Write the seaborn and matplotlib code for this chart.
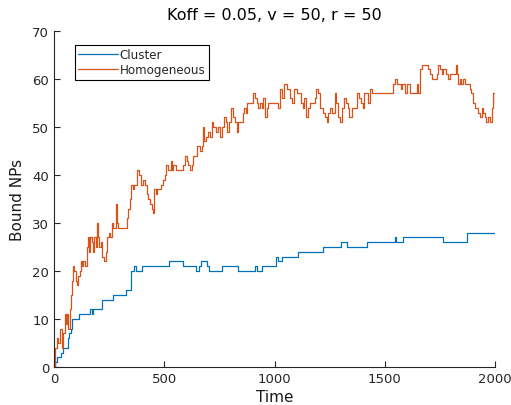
import matplotlib.pyplot as plt
import numpy as np
import pandas as pd
import seaborn as sns

# step change points (time, bound NPs)
cluster_t = [0, 5, 15, 30, 39, 65, 70, 76, 82, 115, 163, 171, 178, 216, 266,
             326, 351, 363, 372, 398, 523, 584, 642, 658, 667, 695, 705, 760,
             836, 910, 922, 942, 1007, 1018, 1035, 1108, 1221, 1303, 1330,
             1418, 1545, 1550, 1581, 1766, 1872, 2000]
cluster_v = [0, 1, 2, 3, 4, 6, 7, 8, 10, 11, 12, 11, 12, 14, 15,
             16, 20, 21, 20, 21, 22, 21, 20, 21, 22, 21, 20, 21,
             20, 21, 20, 21, 23, 22, 23, 24, 25, 26, 25,
             26, 27, 26, 27, 26, 28, 28]

homog_t = [0, 4, 12, 20, 27, 35, 42, 50, 54, 60, 65, 72, 76, 80, 88, 92, 98,
           103, 110, 118, 122, 128, 133, 140, 148, 153, 159, 165, 174, 178,
           183, 189, 193, 198, 206, 212, 216, 224, 228, 234, 242, 251, 254,
           262, 269, 277, 281, 287, 292, 299, 322, 330, 337, 345, 349, 357,
           363, 367, 375, 387, 394, 402, 412, 420, 428, 435, 443, 448, 454,
           463, 469, 478, 484, 493, 503, 508, 518, 529, 533, 541, 553, 579,
           586, 594, 601, 609, 617, 624, 632, 639, 647, 654, 662, 669, 674,
           680, 689, 699, 707, 715, 722, 734, 745, 753, 760, 771, 780, 786,
           795, 801, 810, 821, 828, 836, 846, 855, 861, 870, 877, 889, 901,
           911, 919, 923, 935, 942, 949, 957, 965, 972, 1010, 1017, 1025,
           1032, 1044, 1055, 1070, 1081, 1090, 1100, 1120, 1128, 1135, 1141,
           1150, 1160, 1183, 1190, 1198, 1205, 1214, 1221, 1228, 1236, 1244,
           1251, 1262, 1274, 1281, 1289, 1297, 1304, 1316, 1323, 1332, 1339,
           1350, 1372, 1383, 1392, 1400, 1407, 1418, 1425, 1433, 1441, 1456,
           1509, 1516, 1531, 1539, 1546, 1554, 1572, 1580, 1591, 1599, 1614,
           1645, 1652, 1660, 1667, 1675, 1682, 1697, 1705, 1712, 1735, 1743,
           1750, 1758, 1765, 1780, 1788, 1795, 1818, 1822, 1828, 1833, 1840,
           1848, 1855, 1863, 1878, 1886, 1893, 1901, 1908, 1923, 1931, 1939,
           1946, 1954, 1961, 1969, 1976, 1985, 1992, 2000]
homog_v = [0, 4, 6, 5, 8, 4, 7, 11, 9, 11, 8, 12, 15, 18, 21, 20, 18,
           17, 19, 20, 22, 21, 22, 21, 25, 27, 24, 27, 26, 24,
           27, 25, 30, 27, 25, 26, 23, 23, 22, 24, 27, 28, 27,
           30, 29, 29, 34, 30, 29, 29, 29, 31, 33, 35, 38, 37,
           38, 38, 41, 40, 38, 39, 38, 36, 35, 34, 33, 32, 37,
           36, 37, 37, 38, 39, 40, 42, 41, 43, 41, 42, 41, 41,
           42, 44, 43, 42, 41, 42, 44, 44, 46, 46, 45, 46, 50,
           47, 48, 49, 48, 51, 50, 49, 50, 48, 50, 52, 51, 49,
           51, 54, 52, 51, 49, 51, 51, 53, 54, 53, 55, 55, 57,
           56, 55, 54, 55, 54, 56, 52, 54, 55, 55, 54, 58,
           56, 59, 58, 56, 55, 58, 57, 55, 54, 56, 52,
           54, 55, 56, 58, 57, 54, 54, 53, 52, 51, 53,
           54, 53, 57, 55, 52, 51, 54, 56, 55, 54, 52,
           54, 57, 56, 55, 54, 57, 57, 55, 58, 57, 57,
           57, 57, 57, 59, 60, 59, 58, 59, 57, 59, 57,
           59, 57, 62, 63, 63, 63, 62, 61, 60, 61, 63,
           62, 61, 62, 61, 60, 61, 61, 63, 61, 59, 60,
           59, 60, 59, 59, 58, 57, 55, 54, 53, 52, 54,
           53, 52, 51, 52, 51, 54, 57, 55]

series_names = ['Cluster', 'Homogeneous']
colors = ['#0072BD', '#D95319']

df = pd.concat([
    pd.DataFrame({'Time': cluster_t, 'Bound NPs': cluster_v, 'series': series_names[0]}),
    pd.DataFrame({'Time': homog_t, 'Bound NPs': homog_v, 'series': series_names[1]}),
], ignore_index=True)

sns.set_style('ticks')
plt.rcParams['font.family'] = ['DejaVu Sans']

fig = plt.figure(figsize=(5.11, 4.06), dpi=100)
ax = fig.add_axes([0.1057, 0.0936, 0.863, 0.8274])

sns.lineplot(data=df, x='Time', y='Bound NPs', hue='series',
             palette=dict(zip(series_names, colors)), estimator=None,
             drawstyle='steps-post', linewidth=0.9, ax=ax, legend=False)

ax.set_xlim(0, 2000)
ax.set_ylim(0, 70)
ax.set_xticks([0, 500, 1000, 1500, 2000])
ax.set_yticks(np.arange(0, 71, 10))
ax.tick_params(direction='in', length=4, width=0.8, labelsize=9.5, colors='#262626')
for s in ['top', 'right']:
    ax.spines[s].set_visible(False)
for s in ['left', 'bottom']:
    ax.spines[s].set_color('#262626')
    ax.spines[s].set_linewidth(0.8)

ax.set_xlabel('Time', fontsize=11, labelpad=3, color='#1a1a1a')
ax.set_ylabel('Bound NPs', fontsize=11, labelpad=5, color='#1a1a1a')
ax.set_title('Koff = 0.05, v = 50, r = 50', fontsize=11.5, pad=9, color='black')

handles = [plt.Line2D([], [], color=c, lw=0.9) for c in colors]
leg = ax.legend(handles, series_names, loc='upper left', bbox_to_anchor=(0.047, 0.96),
                fontsize=8.6, frameon=True, fancybox=False, framealpha=1,
                edgecolor='black', borderpad=0.3, handlelength=3.3,
                handletextpad=0.15, labelspacing=0.2, borderaxespad=0)
leg.get_frame().set_linewidth(0.8)

fig.savefig('out.png', dpi=100)
